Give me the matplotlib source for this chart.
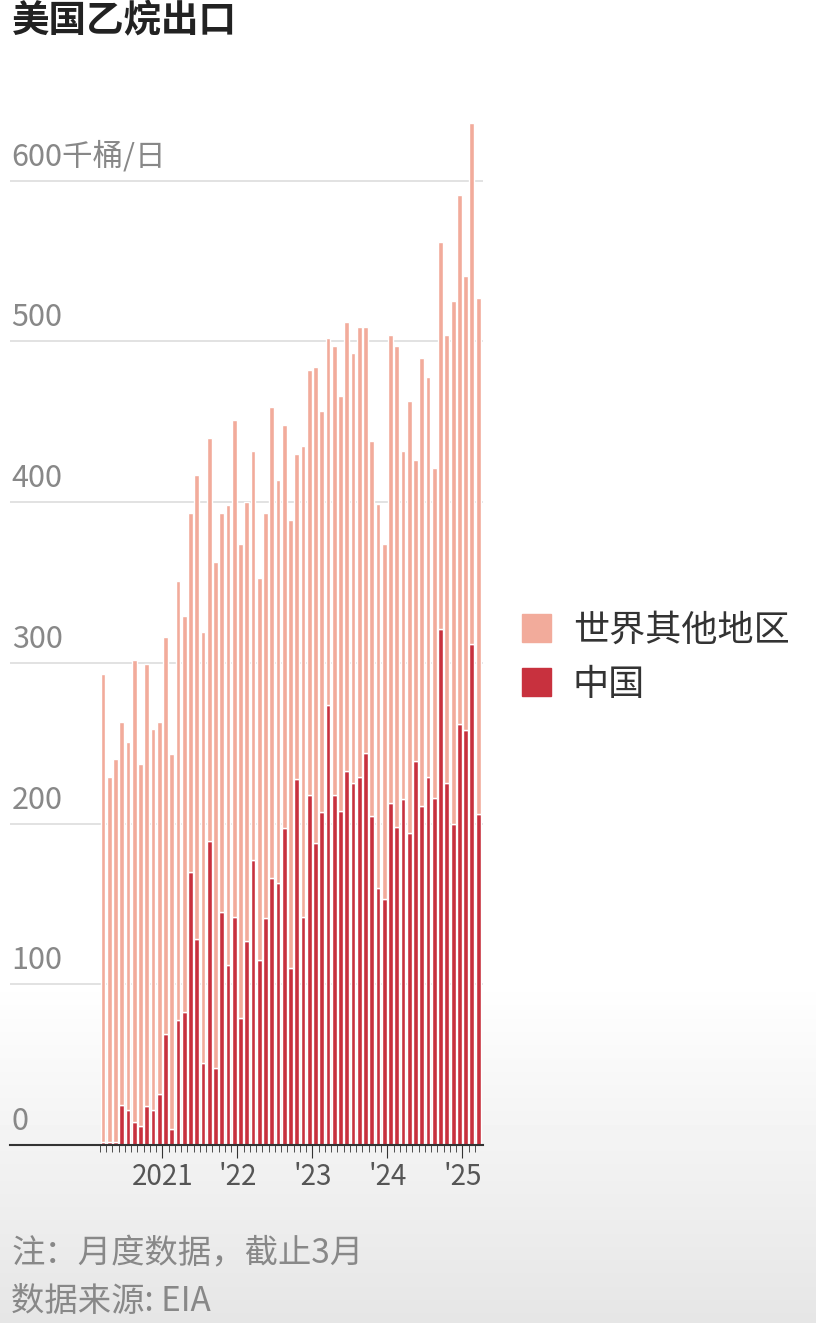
import matplotlib
matplotlib.use("Agg")
import matplotlib.pyplot as plt
from matplotlib.patches import Patch
import numpy as np

plt.rcParams['font.family'] = ['Noto Sans CJK SC', 'DejaVu Sans']

# monthly, Mar 2020 - Mar 2025, thousand barrels/day
total = [293, 229, 240, 263, 251, 302, 237, 299, 259, 263,
         316, 243, 351, 329, 393, 417, 319, 440, 363, 393, 398, 451,
         374, 400, 432, 353, 393, 459, 414, 448, 389, 430, 435, 482,
         484, 457, 502, 497, 466, 512, 493, 509, 509, 438, 399, 374,
         504, 497, 432, 463, 426, 490, 478, 421, 562, 504, 525, 591,
         541, 636, 527]
china = [2, 2, 2, 25, 22, 14, 12, 24, 22, 32,
         69, 10, 78, 83, 170, 128, 51, 189, 48, 145, 112, 142,
         79, 127, 177, 115, 141, 166, 163, 197, 110, 228, 142, 218,
         188, 207, 274, 218, 208, 233, 225, 229, 244, 205, 160, 153,
         213, 198, 215, 194, 239, 211, 229, 216, 321, 225, 200, 262,
         258, 312, 206]
year_labels = ['2021', "'22", "'23", "'24", "'25"]
yticks = [0, 100, 200, 300, 400, 500, 600]

rest = [t - c for t, c in zip(total, china)]
x = np.arange(len(total))
c_rest = '#f2ab9b'
c_china = '#c8313e'

fig = plt.figure(figsize=(8.16, 13.23), dpi=100)

# grey gradient at the bottom of the picture
bg = fig.add_axes([0, 0, 1, 1], zorder=-5)
grad = np.clip((np.linspace(0, 1, 400) - 0.74) / 0.26, 0, 1)[:, None]
bg.imshow(1 - 0.1 * grad, cmap='gray', vmin=0, vmax=1, aspect='auto',
          extent=[0, 1, 0, 1])
bg.axis('off')

ax = fig.add_axes([0.012, 0.1346, 0.58, 0.7895])
ax.patch.set_alpha(0)
ax.bar(x, china, width=0.78, color=c_china, edgecolor='white', linewidth=1, zorder=3)
ax.bar(x, rest, bottom=china, width=0.78, color=c_rest, edgecolor='white', linewidth=1, zorder=3)

ax.set_xlim(-14.9, 60.8)
ax.set_ylim(0, 650)
for s in ['top', 'right', 'left']:
    ax.spines[s].set_visible(False)
ax.spines['bottom'].set_color('#333333')
ax.spines['bottom'].set_linewidth(1.5)
ax.spines['bottom'].set_zorder(4)

for v in yticks:
    if v > 0:
        ax.axhline(v, color='#dddddd', linewidth=1.2, zorder=1)
    lab = '600千桶/日' if v == 600 else str(v)
    ax.text(-14.6, v + 5, lab, fontsize=22, color='#888888', va='bottom', ha='left')
ax.set_yticks([])

ax.set_xticks(x - 0.5, minor=True)
ax.tick_params(axis='x', which='minor', length=5, color='#333333')
ax.set_xticks([9.5, 21.5, 33.5, 45.5, 57.5])
ax.set_xticklabels(year_labels, fontsize=20, color='#555555')
ax.tick_params(axis='x', which='major', length=9, color='#333333', pad=3)

fig.text(0.014, 0.999, '美国乙烷出口', fontsize=27, fontweight='bold', va='top', ha='left', color='#222222')
fig.text(0.014, 0.052, '注：月度数据，截止3月', fontsize=24, color='#888888', va='center')
fig.text(0.014, 0.016, '数据来源: EIA', fontsize=24, color='#888888', va='center')

handles = [Patch(color=c_rest, label='世界其他地区'), Patch(color=c_china, label='中国')]
fig.legend(handles=handles, loc='center left', bbox_to_anchor=(0.60, 0.503), frameon=False,
           fontsize=26, handlelength=0.8, handleheight=0.8, labelspacing=0.5,
           handletextpad=0.6, labelcolor='#333333')

fig.savefig('out.png', dpi=100)
